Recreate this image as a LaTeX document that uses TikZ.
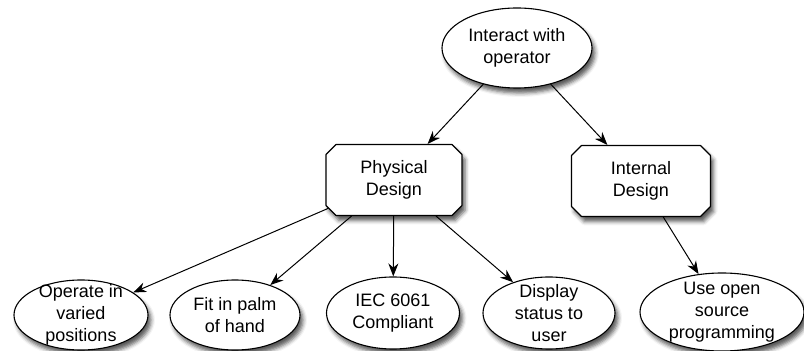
\documentclass[tikz,border=0pt]{standalone}
\usepackage{fontspec}
\setmainfont{Liberation Sans}
\usetikzlibrary{shapes.geometric,shapes.misc,arrows.meta,shadows.blur}
\begin{document}
\begin{tikzpicture}[x=1pt, y=1pt, font=\fontsize{18}{22}\selectfont, line join=round, line cap=round, >={Stealth[length=13pt,width=10pt]},
	goal/.style={ellipse, draw, line width=1.1pt, fill=white, inner sep=0pt,
		blur shadow={shadow xshift=3pt, shadow yshift=-5pt, shadow blur radius=4pt, shadow opacity=65}},
	design/.style={chamfered rectangle, chamfered rectangle xsep=5pt, chamfered rectangle ysep=5pt,
		draw, line width=1.1pt, fill=white, align=center, minimum width=136pt, minimum height=71pt,
		blur shadow={shadow xshift=3pt, shadow yshift=-5pt, shadow blur radius=4pt, shadow opacity=65}}]
	\useasboundingbox (0,0) rectangle (804,351);
	\path
	(517,303) coordinate (T)
	(394,171) coordinate (P)
	(641,170) coordinate (I)
	(81,36) coordinate (O1)
	(235,36) coordinate (O2)
	(393,38) coordinate (O3)
	(549,38) coordinate (O4)
	(722,39) coordinate (O5)
	;
	% goals
	\node[goal, minimum width=150pt, minimum height=80pt, label={[align=center]center:Interact with\\operator}] (top) at (T) {};
	\node[goal, minimum width=134pt, minimum height=70pt, label={[align=center]center:Operate in\\varied\\positions}] (op) at (O1) {};
	\node[goal, minimum width=130pt, minimum height=70pt, label={[align=center]center:Fit in palm\\of hand}] (fit) at (O2) {};
	\node[goal, minimum width=133pt, minimum height=72pt, label={[align=center]center:IEC 6061\\Compliant}] (iec) at (O3) {};
	\node[goal, minimum width=132pt, minimum height=72pt, label={[align=center]center:Display\\status to\\user}] (disp) at (O4) {};
	\node[goal, minimum width=164pt, minimum height=78pt, label={[align=center]center:Use open\\source\\programming}] (use) at (O5) {};
	% designs
	\node[design] (phys) at (P) {Physical\\Design};
	\node[design, minimum width=139pt] (intl) at (I) {Internal\\Design};
	\foreach \a/\b in {top/phys,top/intl,phys/op,phys/fit,phys/iec,phys/disp,intl/use}
	\draw[->, line width=1pt] (\a) -- (\b);
\end{tikzpicture}
\end{document}
